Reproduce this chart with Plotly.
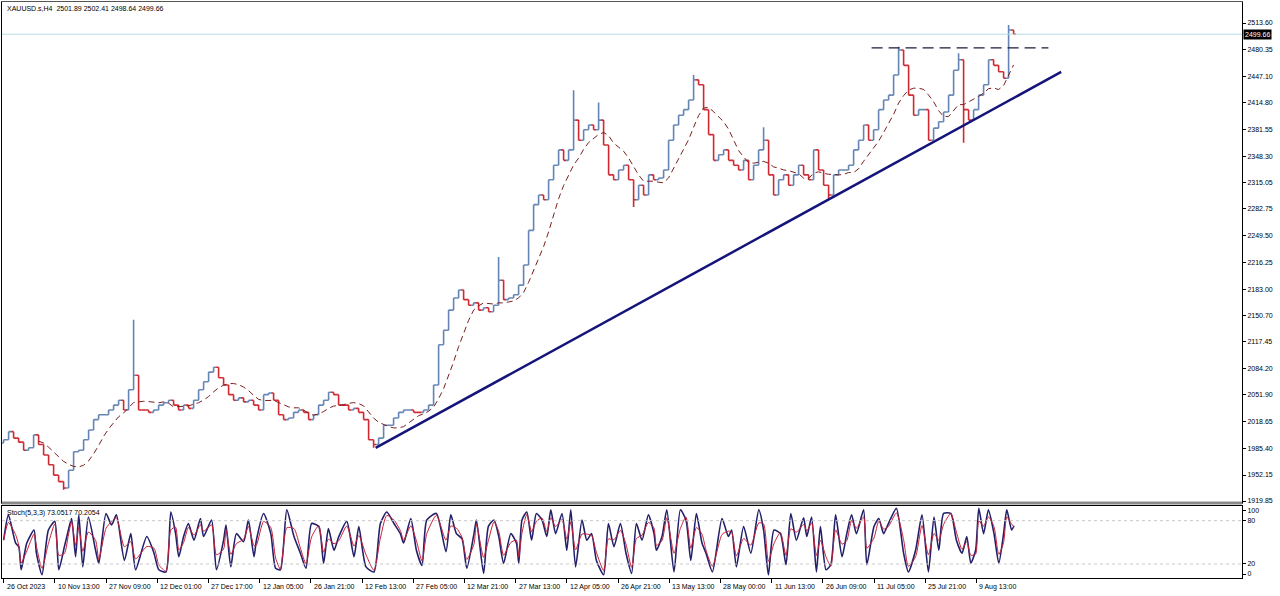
import plotly.graph_objects as go
import pandas as pd

# ---------------- data ----------------
symbol_header = "XAUUSD.s,H4  2501.89 2502.41 2498.64 2499.66"
stoch_header = "Stoch(5,3,3) 73.0517 70.2054"
last_price = 2499.66

# sampled closes, one every 6.25 H4 bars, starting 26 Oct 2023
closes = [
    1996, 2006, 1998, 1993, 1983, 1986, 2002, 1990, 1977, 1965,
    1952, 1944, 1936, 1958, 1981, 1983, 1996, 2008, 2021, 2027,
    2027, 2033, 2039, 2045, 2033, 2058, 2076, 2033, 2033, 2030,
    2033, 2039, 2042, 2045, 2039, 2033, 2039, 2035, 2045, 2058,
    2068, 2080, 2086, 2073, 2064, 2052, 2045, 2048, 2043, 2045,
    2039, 2033, 2052, 2054, 2045, 2027, 2021, 2023, 2030, 2033,
    2030, 2021, 2027, 2039, 2045, 2055, 2052, 2039, 2039, 2033,
    2035, 2030, 2021, 1996, 1990, 1998, 2014, 2014, 2023, 2030,
    2033, 2033, 2030, 2030, 2033, 2039, 2064, 2114, 2132, 2157,
    2172, 2182, 2170, 2163, 2166, 2157, 2160, 2155, 2163, 2194,
    2170, 2172, 2176, 2188, 2213, 2256, 2288, 2300, 2294, 2319,
    2337, 2356, 2343, 2356, 2393, 2368, 2381, 2387, 2381, 2393,
    2362, 2325, 2319, 2331, 2337, 2319, 2294, 2312, 2300, 2325,
    2319, 2321, 2331, 2368, 2387, 2399, 2406, 2418, 2443, 2437,
    2406, 2375, 2343, 2350, 2356, 2343, 2337, 2331, 2343, 2319,
    2337, 2356, 2368, 2325, 2300, 2319, 2325, 2312, 2325, 2337,
    2325, 2319, 2356, 2331, 2312, 2300, 2325, 2331, 2331, 2337,
    2356, 2368, 2387, 2368, 2381, 2406, 2418, 2424, 2449, 2480,
    2461, 2424, 2399, 2406, 2406, 2368, 2383, 2391, 2403, 2424,
    2455, 2468, 2406, 2393, 2406, 2424, 2437, 2468, 2461, 2453,
    2445, 2505, 2499.66,
]
wick_highs = {26: 2145, 99: 2223, 114: 2430, 119: 2415, 138: 2449,
              152: 2384, 179: 2484, 191: 2476, 201: 2511}
wick_lows = {12: 1934, 74: 1986, 126: 2285, 165: 2294, 192: 2365}

# stochastic %K readings (bar index, value)
stoch_bars = [
    0, 6, 15, 19, 22, 29, 38, 41, 48, 56, 64, 69, 76, 81, 85, 90, 94, 99, 106, 115,
    119, 128, 135, 141, 151, 159, 165, 179, 188, 194, 203, 209, 215, 219, 225, 231, 238, 246, 250, 260,
    266, 275, 278, 284, 291, 300, 306, 313, 316, 325, 334, 340, 346, 354, 363, 371, 378, 385, 394, 400,
    406, 413, 419, 429, 438, 444, 453, 463, 471, 479, 488, 496, 500, 509, 516, 523, 529, 541, 553, 559,
    566, 573, 579, 588, 591, 600, 606, 613, 619, 625, 634, 641, 644, 648, 654, 660, 666, 673, 679, 684,
    690, 698, 704, 709, 715, 723, 729, 735, 741, 750, 756, 763, 771, 778, 785, 791, 798, 806, 813, 816,
    823, 829, 838, 846, 853, 859, 866, 873, 878, 886, 898, 906, 910, 916, 925, 934, 944, 950, 956, 963,
    971, 978, 984, 991, 1000, 1004, 1010, 1016, 1021, 1028, 1034, 1040, 1048, 1054, 1060, 1066, 1075, 1079, 1088, 1094,
    1100, 1106, 1116, 1125, 1131, 1140, 1148, 1156, 1163, 1169, 1175, 1184, 1191, 1198, 1204, 1209, 1215, 1219, 1225, 1231,
    1238, 1244, 1250, 1254, 1260, 1263,
]
stoch_k = [
    53, 88, 49, 44, 12, 49, 67, 35, 5, 67, 79, 12, 44, 67, 83, 30, 88, 16, 85, 39,
    21, 90, 74, 88, 25, 62, 12, 58, 35, 12, 9, 92, 62, 30, 58, 76, 53, 83, 58, 81,
    12, 53, 74, 16, 62, 51, 81, 30, 53, 90, 62, 14, 12, 95, 58, 35, 14, 76, 72, 21,
    69, 39, 58, 79, 30, 72, 16, 9, 76, 92, 76, 62, 49, 83, 39, 18, 81, 90, 37, 88,
    62, 55, 14, 62, 81, 7, 72, 81, 58, 21, 62, 49, 21, 81, 92, 53, 90, 81, 58, 95,
    62, 90, 39, 95, 16, 81, 53, 62, 25, 5, 76, 44, 76, 35, 7, 76, 53, 88, 62, 39,
    58, 95, 9, 95, 81, 25, 90, 49, 35, 9, 83, 58, 67, 16, 72, 35, 95, 67, 5, 67,
    62, 19, 90, 53, 84, 58, 85, 9, 72, 12, 19, 88, 30, 62, 88, 62, 95, 19, 72, 83,
    62, 76, 97, 35, 9, 39, 88, 9, 85, 39, 90, 90, 53, 35, 58, 21, 39, 97, 62, 95,
    62, 21, 62, 95, 67, 73,
]

# trend line and resistance (bar index, price)
trend_bars = [465, 1322]
trend_prices = [1985.8, 2452.8]
resist_bars = [1085, 1306]
resist_price = 2482.6

price_ticks = [1919.85, 1952.15, 1985.40, 2018.65, 2051.90, 2084.20, 2117.45,
               2150.70, 2183.00, 2216.25, 2249.50, 2282.75, 2315.05, 2348.30,
               2381.55, 2414.80, 2447.10, 2480.35, 2513.60]
date_labels = ["26 Oct 2023", "10 Nov 13:00", "27 Nov 09:00", "12 Dec 01:00",
               "27 Dec 17:00", "12 Jan 05:00", "26 Jan 21:00", "12 Feb 13:00",
               "27 Feb 05:00", "12 Mar 21:00", "27 Mar 13:00", "12 Apr 05:00",
               "26 Apr 21:00", "13 May 13:00", "28 May 00:00", "11 Jun 13:00",
               "26 Jun 09:00", "11 Jul 05:00", "25 Jul 21:00", "9 Aug 13:00"]
bars_per_label = 64
bar_step = 6.25
ma_window = 8

# ---------------- build ----------------
n = len(closes)
xs = [i * bar_step for i in range(n)]
opens = [closes[0] - 4] + closes[:-1]
highs = [max(o, c) for o, c in zip(opens, closes)]
lows = [min(o, c) for o, c in zip(opens, closes)]
for k, v in wick_highs.items():
    highs[k] = max(highs[k], v)
for k, v in wick_lows.items():
    lows[k] = min(lows[k], v)
ma = pd.Series(closes).rolling(ma_window).mean()
k_series = pd.Series(stoch_k)
stoch_d = 0.7 * k_series + 0.3 * k_series.shift(1).fillna(k_series)

FONT = "Liberation Sans"
UP = "#6485b4"
DOWN = "#d02830"

fig = go.Figure()
fig.add_trace(go.Ohlc(
    x=xs, open=opens, high=highs, low=lows, close=closes,
    increasing=dict(line=dict(color=UP, width=1.6)),
    decreasing=dict(line=dict(color=DOWN, width=1.6)),
    tickwidth=0.5, xaxis="x", yaxis="y", showlegend=False, hoverinfo="skip"))
fig.add_trace(go.Scatter(
    x=xs, y=ma, mode="lines", line=dict(color="#7a1f1f", width=1, dash="6px,4px"),
    xaxis="x", yaxis="y", showlegend=False, hoverinfo="skip"))
fig.add_trace(go.Scatter(
    x=trend_bars, y=trend_prices, mode="lines", line=dict(color="#14147a", width=2.5),
    xaxis="x", yaxis="y", showlegend=False, hoverinfo="skip"))
fig.add_trace(go.Scatter(
    x=resist_bars, y=[resist_price, resist_price], mode="lines",
    line=dict(color="#1a1a3a", width=1.2, dash="11px,6px"),
    xaxis="x", yaxis="y", showlegend=False, hoverinfo="skip"))
fig.add_trace(go.Scatter(
    x=stoch_bars, y=stoch_k, mode="lines",
    line=dict(color="#23206a", width=1.6, shape="spline", smoothing=0.6),
    xaxis="x2", yaxis="y2", showlegend=False, hoverinfo="skip"))
fig.add_trace(go.Scatter(
    x=stoch_bars, y=stoch_d, mode="lines",
    line=dict(color="#c8203a", width=1, shape="spline", smoothing=0.6),
    xaxis="x2", yaxis="y2", showlegend=False, hoverinfo="skip"))

xrange = [-2, 1548]
main_dom = [0.1302, 1.0]
stoch_dom = [0.0, 0.125]

fig.update_layout(
    width=1280, height=596,
    margin=dict(l=2, r=38, t=2, b=18),
    paper_bgcolor="white", plot_bgcolor="white",
    font=dict(family=FONT, size=7, color="black"),
    xaxis=dict(domain=[0, 1], range=xrange, showticklabels=False, ticks="",
               showgrid=False, zeroline=False, showline=True, mirror=True,
               linecolor="#555555", linewidth=1, anchor="y",
               rangeslider=dict(visible=False)),
    yaxis=dict(domain=main_dom, range=[1917.4, 2539.7], side="right",
               tickvals=price_ticks, ticktext=[f"{v:.2f}" for v in price_ticks],
               ticks="outside", ticklen=3, tickcolor="black",
               tickfont=dict(family=FONT, size=7), showgrid=False,
               zeroline=False, showline=True, mirror=True,
               linecolor="black", linewidth=1, anchor="x"),
    xaxis2=dict(domain=[0, 1], range=xrange, showticklabels=False,
                tickvals=[k * bars_per_label for k in range(len(date_labels))],
                ticks="outside", ticklen=4, tickcolor="black",
                showgrid=False, zeroline=False, showline=True, mirror=True,
                linecolor="black", linewidth=1, anchor="y2"),
    yaxis2=dict(domain=stoch_dom, range=[0.6, 100.3], side="right",
                tickvals=[93.4, 80, 20, 6.1], ticktext=["100", "80", "20", "0"],
                ticks="outside", ticklen=3, tickcolor="black",
                tickfont=dict(family=FONT, size=7), showgrid=False,
                zeroline=False, showline=True, mirror=True,
                linecolor="black", linewidth=1, anchor="x2"),
)

shapes = [
    dict(type="line", xref="paper", x0=0, x1=1, yref="y", y0=last_price, y1=last_price,
         line=dict(color="#b4dce4", width=1)),
    dict(type="line", xref="paper", x0=0, x1=1, yref="y2", y0=80, y1=80,
         line=dict(color="#c8c8c8", width=1, dash="3px,3px")),
    dict(type="line", xref="paper", x0=0, x1=1, yref="y2", y0=20, y1=20,
         line=dict(color="#c8c8c8", width=1, dash="3px,3px")),
    dict(type="line", xref="paper", x0=0, x1=1, yref="paper", y0=0.1302, y1=0.1302,
         line=dict(color="#8a8a8a", width=3)),
]
fig.update_layout(shapes=shapes)

ann = [
    dict(xref="paper", yref="paper", x=0, y=1, xanchor="left", yanchor="top",
         xshift=3, yshift=-1, text=symbol_header, showarrow=False,
         font=dict(family=FONT, size=7, color="black")),
    dict(xref="paper", yref="paper", x=0, y=stoch_dom[1], xanchor="left", yanchor="top",
         xshift=3, yshift=-1, text=stoch_header, showarrow=False,
         font=dict(family=FONT, size=7, color="black")),
    dict(xref="paper", yref="y", x=1, y=last_price, xanchor="left", yanchor="middle",
         xshift=1, text=f"{last_price:.2f}", showarrow=False, bgcolor="black",
         borderpad=1, font=dict(family=FONT, size=7, color="white")),
]
for k, lab in enumerate(date_labels):
    ann.append(dict(xref="x2", yref="paper", x=k * bars_per_label, y=0,
                    xanchor="left", yanchor="top", yshift=-3, xshift=1,
                    text=lab, showarrow=False,
                    font=dict(family=FONT, size=7, color="black")))
fig.update_layout(annotations=ann)

fig.write_html("out.html")
